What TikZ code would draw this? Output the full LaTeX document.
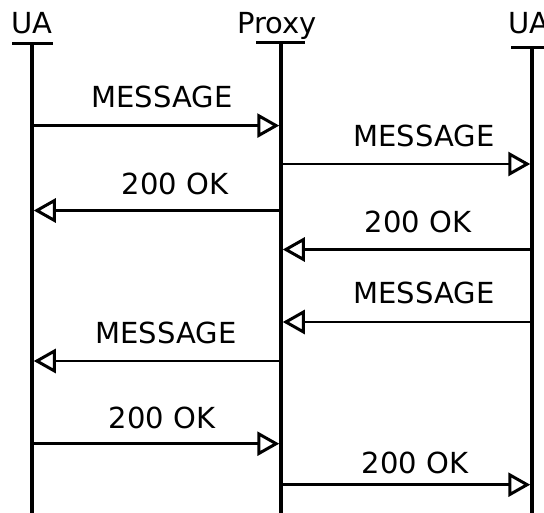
\documentclass[tikz,border=0pt]{standalone}
\usepackage{fontspec}
\setmainfont{DejaVu Sans}
\usetikzlibrary{arrows.meta}
\begin{document}
\begin{tikzpicture}[x=1pt,y=-1pt,
  lbl/.style={font=\fontsize{29}{34}\selectfont, inner sep=0pt, anchor=base},
  life/.style={line width=3.5pt},
  headbar/.style={line width=3pt},
  msg/.style={line width=2.5pt, -{Triangle[open,length=22pt,width=24pt,line width=3pt]}}]
\useasboundingbox (0,0) rectangle (544,513);
\clip (0,0) rectangle (544,513);
% headers
\node[lbl] (hA) at (32,34) {UA};
\node[lbl] (hP) at (277,34) {Proxy};
\node[lbl, anchor=base west] (hB) at (508,34) {UA};
% lifeline ends
\coordinate (At) at (32,44);  \coordinate (Ab) at (32,513);
\coordinate (Pt) at (281,43); \coordinate (Pb) at (281,513);
\coordinate (Bt) at (532,48); \coordinate (Bb) at (532,513);
\coordinate (Al) at (12,44);  \coordinate (Ar) at (53,44);
\coordinate (Pl) at (256,43); \coordinate (Pr) at (305,43);
\coordinate (Bl) at (511,48); \coordinate (Br) at (553,48);
\draw[headbar] (Al) -- (Ar);
\draw[headbar] (Pl) -- (Pr);
\draw[headbar] (Bl) -- (Br);
\draw[life] (At) -- (Ab);
\draw[life] (Pt) -- (Pb);
\draw[life] (Bt) -- (Bb);
% message end points
\foreach \n/\y in {1/125.6,2/164,3/210.5,4/249.5,5/322,6/361,7/443.7,8/484.7}{
  \coordinate (A\n) at (33.75,\y);
  \coordinate (P\n) at (279.25,\y);
  \coordinate (Q\n) at (282.75,\y);
  \coordinate (B\n) at (530.25,\y);
}
\draw[msg] (A1) -- (P1);
\node[lbl] (m1) at (162,108) {MESSAGE};
\draw[msg] (Q2) -- (B2);
\node[lbl] (m2) at (424,147) {MESSAGE};
\draw[msg] (P3) -- (A3);
\node[lbl] (m3) at (175,195) {200 OK};
\draw[msg] (B4) -- (Q4);
\node[lbl] (m4) at (418,232.6) {200 OK};
\draw[msg] (B5) -- (Q5);
\node[lbl] (m5) at (424,304) {MESSAGE};
\draw[msg] (P6) -- (A6);
\node[lbl] (m6) at (166,344) {MESSAGE};
\draw[msg] (A7) -- (P7);
\node[lbl] (m7) at (162,428) {200 OK};
\draw[msg] (Q8) -- (B8);
\node[lbl] (m8) at (415,473) {200 OK};
\end{tikzpicture}
\end{document}
